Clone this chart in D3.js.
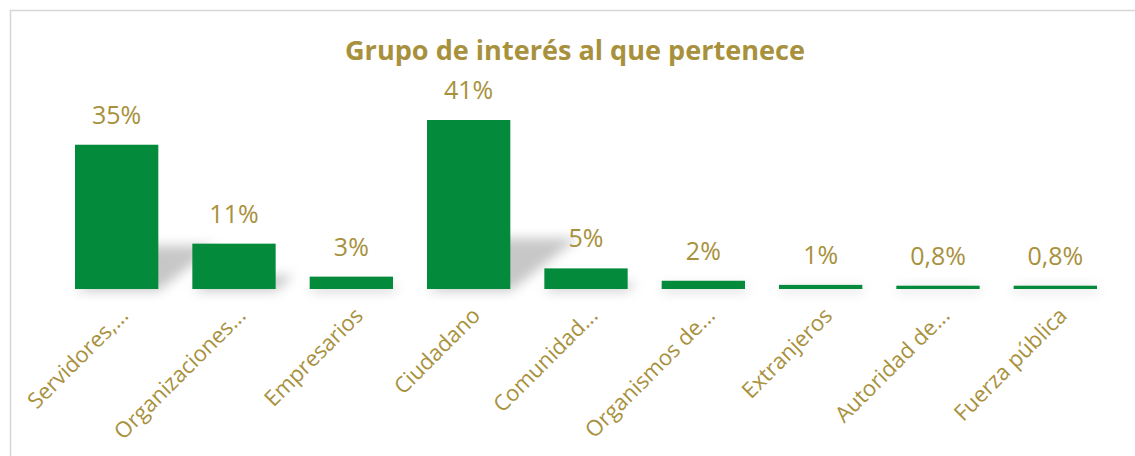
<!DOCTYPE html>
<html>
<head>
<meta charset="utf-8">
<script src="https://cdn.jsdelivr.net/npm/d3@7"></script>
<style>
  body { margin: 0; background: #fff; }
  svg { display: block; }
</style>
</head>
<body>
<div id="chart-area"></div>
<script>
// DATA
var categories = ["Servidores,...", "Organizaciones...", "Empresarios", "Ciudadano",
    "Comunidad...", "Organismos de...", "Extranjeros", "Autoridad de...", "Fuerza pública"];
var values = [35, 11, 3, 41, 5, 2, 1, 0.8, 0.8];
var valueLabels = ["35%", "11%", "3%", "41%", "5%", "2%", "1%", "0,8%", "0,8%"];
var title = "Grupo de interés al que pertenece";

var width = 1135;
var height = 456;
var baseline = 289;

var gold = "#a8913d";
var green = "#038a3a";

var svg = d3.select("#chart-area")
    .append("svg")
    .attr("width", width)
    .attr("height", height);

// shadow blur
var defs = svg.append("defs");
defs.append("filter")
    .attr("id", "blur")
    .attr("x", "-50%").attr("y", "-50%")
    .attr("width", "200%").attr("height", "200%")
    .append("feGaussianBlur")
    .attr("stdDeviation", 6);

// frame
svg.append("path")
    .attr("d", "M10.5," + height + " V10.5 H" + width)
    .attr("fill", "none")
    .attr("stroke", "#d6d6d6")
    .attr("stroke-width", 1.5);

// SCALES
var x = d3.scaleBand()
    .domain(categories)
    .range([58, 1114])
    .paddingInner(0.29)
    .paddingOuter(0.145);

var y = d3.scaleLinear()
    .domain([0, 41])
    .range([baseline, 120]);

var data = categories.map(function (c, i) {
    return { cat: c, value: values[i], label: valueLabels[i] };
});

// title
svg.append("text")
    .attr("x", 575)
    .attr("y", 60)
    .attr("text-anchor", "middle")
    .attr("font-family", "'Open Sans', sans-serif")
    .attr("font-weight", "bold")
    .attr("font-size", "26px")
    .attr("fill", gold)
    .attr("textLength", 460)
    .attr("lengthAdjust", "spacingAndGlyphs")
    .text(title);

// shadows
svg.append("g")
    .attr("filter", "url(#blur)")
    .selectAll("path")
    .data(data)
    .enter()
    .append("path")
    .attr("d", function (d) {
        var x0 = x(d.cat), x1 = x0 + x.bandwidth();
        var h = baseline - y(d.value);
        var dx = h * 0.4, dy = h * 0.3;
        return "M" + x0 + "," + (baseline + 2) + " L" + x1 + "," + (baseline + 2) +
            " L" + (x1 + dx) + "," + (baseline - dy) + " L" + (x0 + dx) + "," + (baseline - dy) + "Z";
    })
    .attr("fill", "#000")
    .attr("opacity", 0.22);

// bars
svg.append("g")
    .selectAll("rect")
    .data(data)
    .enter()
    .append("rect")
    .attr("x", function (d) { return x(d.cat); })
    .attr("y", function (d) { return y(d.value); })
    .attr("width", x.bandwidth())
    .attr("height", function (d) { return baseline - y(d.value); })
    .attr("fill", green);

// value labels
svg.append("g")
    .selectAll("text")
    .data(data)
    .enter()
    .append("text")
    .attr("x", function (d) { return x(d.cat) + x.bandwidth() / 2; })
    .attr("y", function (d) { return y(d.value) - 21; })
    .attr("text-anchor", "middle")
    .attr("font-family", "'Open Sans', sans-serif")
    .attr("font-size", "25px")
    .attr("fill", gold)
    .text(function (d) { return d.label; });

// category labels
svg.append("g")
    .selectAll("text")
    .data(data)
    .enter()
    .append("text")
    .attr("transform", function (d) {
        var cx = x(d.cat) + x.bandwidth() / 2 + 13;
        return "translate(" + cx + ",317) rotate(-45)";
    })
    .attr("text-anchor", "end")
    .attr("font-family", "'Open Sans', sans-serif")
    .attr("font-size", "22px")
    .attr("fill", gold)
    .text(function (d) { return d.cat; });
</script>
</body>
</html>
